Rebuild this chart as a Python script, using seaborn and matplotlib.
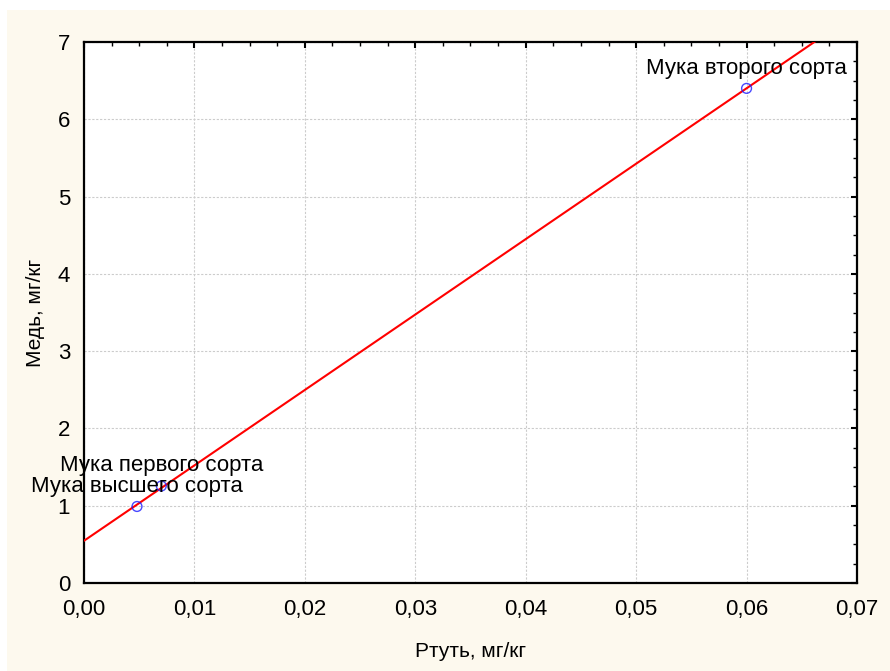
import numpy as np
import pandas as pd
import seaborn as sns
import matplotlib.pyplot as plt
import matplotlib.patches as mpatches
from matplotlib.ticker import MultipleLocator, FuncFormatter

# data
flour = ['Мука высшего сорта', 'Мука первого сорта', 'Мука второго сорта']
mercury = [0.0048, 0.0070, 0.0600]   # Ртуть, мг/кг
copper = [0.99, 1.255, 6.40]         # Медь, мг/кг

df = pd.DataFrame({'flour': flour, 'mercury': mercury, 'copper': copper})

sns.set_style('white')
plt.rcParams['font.family'] = ['Liberation Sans', 'DejaVu Sans']
plt.rcParams['text.color'] = 'black'
plt.rcParams['axes.labelcolor'] = 'black'
plt.rcParams['xtick.color'] = 'black'
plt.rcParams['ytick.color'] = 'black'

CREAM = '#fdf9ee'

fig = plt.figure(figsize=(8.9, 6.71), dpi=100, facecolor='white')
fig.patches.append(mpatches.Rectangle((7 / 890, 0), 1, 1 - 10 / 671,
                                      transform=fig.transFigure,
                                      facecolor=CREAM, edgecolor='none', zorder=-1))
ax = fig.add_axes([84 / 890, 1 - 583 / 671, (857 - 84) / 890, (583 - 42) / 671])
ax.set_facecolor('white')

ax.set_xlim(0, 0.07)
ax.set_ylim(0, 7)

sns.regplot(data=df, x='mercury', y='copper', ax=ax, ci=None, truncate=False,
            marker='o',
            scatter_kws={'facecolors': 'none', 'edgecolors': '#1a1aff', 's': 50, 'linewidths': 1.0, 'zorder': 4},
            line_kws={'color': '#ff0000', 'lw': 1.5, 'zorder': 3})

ax.set_xlim(0, 0.07)
ax.set_ylim(0, 7)

for _, r in df.iterrows():
    ax.annotate(r['flour'], (r['mercury'], r['copper']), xytext=(0, 7),
                textcoords='offset points', ha='center', va='bottom',
                fontsize=16, color='black', zorder=5)

ax.xaxis.set_major_locator(MultipleLocator(0.01))
ax.xaxis.set_minor_locator(MultipleLocator(0.0025))
ax.yaxis.set_major_locator(MultipleLocator(1))
ax.yaxis.set_minor_locator(MultipleLocator(0.25))
ax.xaxis.set_major_formatter(FuncFormatter(lambda v, p: f'{v:.2f}'.replace('.', ',')))
ax.yaxis.set_major_formatter(FuncFormatter(lambda v, p: f'{v:.0f}'))

ax.tick_params(which='both', direction='in', top=True, right=True, color='black')
ax.tick_params(which='major', length=4, width=1.5, labelsize=16)
ax.tick_params(axis='x', which='major', pad=11.5)
ax.tick_params(axis='y', which='major', pad=10)
ax.tick_params(which='minor', length=3, width=1.0)

ax.grid(True, which='major', color='#cccccc', linestyle=(0, (2, 1.5)), linewidth=0.8)
for s in ax.spines.values():
    s.set_color('black')
    s.set_linewidth(1.6)

ax.set_xlabel('Ртуть, мг/кг', fontsize=15, labelpad=16)
ax.set_ylabel('Медь, мг/кг', fontsize=15, labelpad=9)

fig.savefig('out.png', dpi=100, facecolor=fig.get_facecolor())
